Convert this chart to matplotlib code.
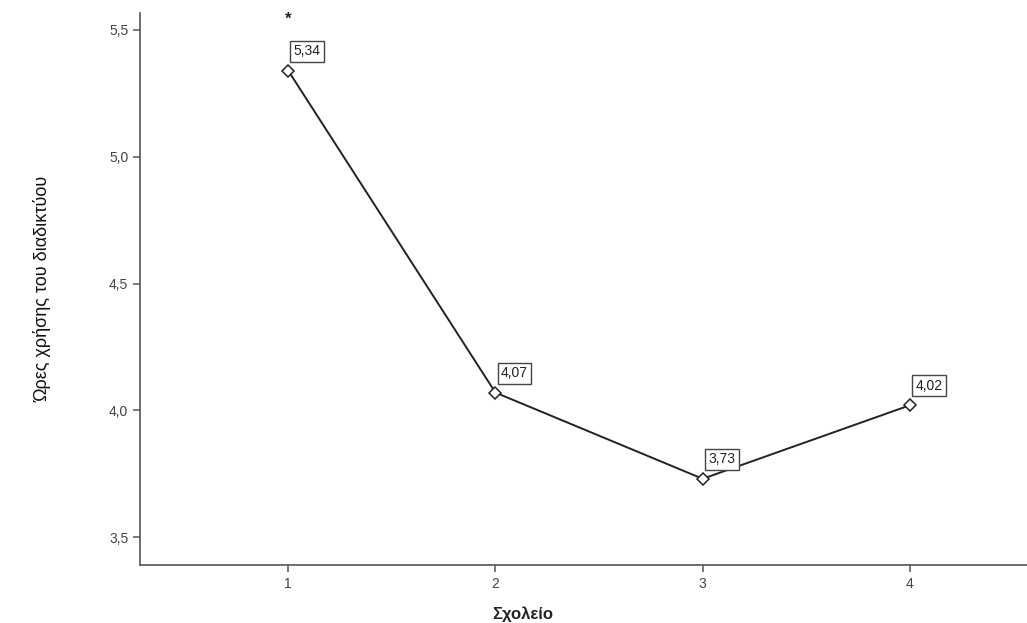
import matplotlib.pyplot as plt
from matplotlib import font_manager

schools = [1, 2, 3, 4]
hours = [5.34, 4.07, 3.73, 4.02]
point_labels = ["5,34", "4,07", "3,73", "4,02"]
y_ticks = [3.5, 4.0, 4.5, 5.0, 5.5]
y_tick_labels = ["3,5", "4,0", "4,5", "5,0", "5,5"]

plt.rcParams["font.family"] = ["Liberation Sans", "DejaVu Sans"]
names = {f.name for f in font_manager.fontManager.ttflist}
narrow = "Liberation Sans Narrow" if "Liberation Sans Narrow" in names else "Liberation Sans"

fig = plt.figure(figsize=(10.27, 6.23), dpi=100)
ax = fig.add_axes([140 / 1027, 58 / 623, 887 / 1027, 552 / 623])

ax.plot(schools, hours, color="#222222", lw=1.4, marker="D", ms=6.5,
        mfc="white", mec="#222222", mew=1.1, zorder=3)

for x, y, s in zip(schools, hours, point_labels):
    ax.annotate(s, (x, y), xytext=(4, 9), textcoords="offset points",
                fontsize=10, color="#222222", ha="left", va="bottom",
                bbox=dict(boxstyle="square,pad=0.25", fc="white", ec="#444444", lw=1.0))

# asterisk above school 1
ax.annotate("*", (schools[0], hours[0]), xytext=(0, 42), textcoords="offset points",
            ha="center", va="top", fontsize=12, fontweight="bold", color="#222222")

ax.set_xlim(0.285, 4.565)
ax.set_ylim(3.39, 5.567)
ax.set_xticks(schools)
ax.set_xticklabels([str(s) for s in schools])
ax.set_yticks(y_ticks)
ax.set_yticklabels(y_tick_labels)

for side in ["top", "right"]:
    ax.spines[side].set_visible(False)
for side in ["left", "bottom"]:
    ax.spines[side].set_color("#555555")
    ax.spines[side].set_linewidth(1.2)

ax.tick_params(axis="both", colors="#555555", labelcolor="#444444",
               labelsize=10, length=5, width=1.1)

ax.set_xlabel("Σχολείο", fontsize=12, fontweight="bold", color="#222222")
ax.xaxis.set_label_coords((523 - 140) / 887, -0.075)
ax.set_ylabel("Ώρες χρήσης του διαδικτύου", fontsize=13, color="#111111",
              family=[narrow, "DejaVu Sans"])
ax.yaxis.set_label_coords(-(140 - 52) / 887, 0.5)

fig.savefig("out.png", dpi=100)
